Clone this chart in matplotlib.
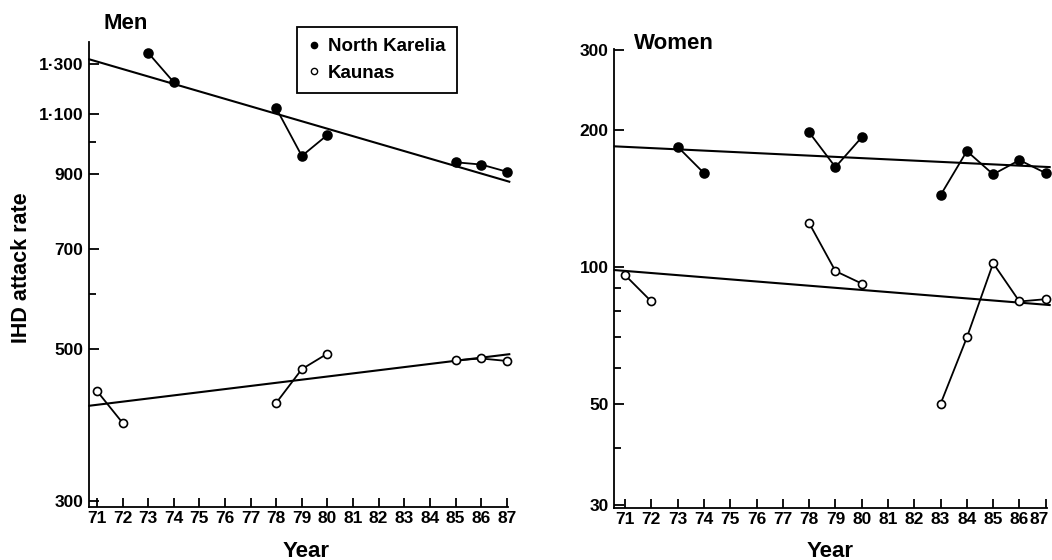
"""IHD attack rates in North Karelia and Kaunas, men and women, 1971-87."""

import numpy as np
import matplotlib

matplotlib.use("Agg")
import matplotlib.pyplot as plt
from matplotlib.lines import Line2D
from matplotlib.ticker import FixedLocator, NullFormatter
from matplotlib.transforms import ScaledTranslation

plt.rcParams["font.family"] = ["Liberation Sans", "DejaVu Sans"]
plt.rcParams["font.weight"] = "bold"
plt.rcParams["axes.labelweight"] = "bold"

YEARS = list(range(71, 88))

# men
men_nk_years = [73, 74, 78, 79, 80, 85, 86, 87]
men_nk_rate = [1350, 1223, 1121, 955, 1025, 935, 928, 906]
men_ka_years = [71, 72, 78, 79, 80, 85, 86, 87]
men_ka_rate = [434, 390, 417, 467, 492, 481, 484, 480]
men_trend_years = [70.7, 87.1]
men_nk_trend = [1321, 876]
men_ka_trend = [413, 491]
men_yticks = [300, 500, 700, 900, 1100, 1300]
men_yticklabels = ["300", "500", "700", "900", "1\u00b7100", "1\u00b7300"]
men_yminor = [600, 1000]

# women
women_nk_years = [73, 74, 78, 79, 80, 83, 84, 85, 86, 87]
women_nk_rate = [184, 161, 198, 166, 193, 144, 180, 160, 172, 161]
women_ka_years = [71, 72, 78, 79, 80, 83, 84, 85, 86, 87]
women_ka_rate = [96, 84, 125, 98, 92, 50, 70, 102, 84, 85]
women_trend_years = [70.6, 87.15]
women_nk_trend = [184.4, 166.0]
women_ka_trend = [98.5, 82.5]
women_yticks = [30, 50, 100, 200, 300]
women_yticklabels = ["30", "50", "100", "200", "300"]
women_yminor = [40, 60, 70, 80, 90]


def runs(years, values):
    """Split a series wherever a year is missing, so gaps are not joined."""
    years = np.asarray(years)
    values = np.asarray(values)
    cuts = np.where(np.diff(years) > 1)[0] + 1
    return zip(np.split(years, cuts), np.split(values, cuts))


def draw_series(ax, years, values, filled):
    face = "black" if filled else "white"
    for ys, vs in runs(years, values):
        ax.plot(ys, vs, color="black", lw=1.3, marker="o", ms=6.4 if filled else 5.8,
                mfc=face, mec="black", mew=1.2, zorder=3, clip_on=False)


def draw_trend(ax, years, values):
    ax.plot(years, values, color="black", lw=1.5, zorder=2, clip_on=False)


def style_axes(ax, xlim, ylim, yticks, yticklabels, yminor):
    ax.set_yscale("log")
    ax.set_xlim(*xlim)
    ax.set_ylim(*ylim)
    for side in ("top", "right"):
        ax.spines[side].set_visible(False)
    for side in ("left", "bottom"):
        ax.spines[side].set_linewidth(1.3)
    ax.set_xticks(YEARS)
    ax.set_xticklabels([str(y) for y in YEARS])
    ax.yaxis.set_major_locator(FixedLocator(yticks))
    ax.set_yticklabels(yticklabels)
    ax.yaxis.set_minor_locator(FixedLocator(yminor))
    ax.yaxis.set_minor_formatter(NullFormatter())
    ax.tick_params(axis="both", which="major", direction="in", labelsize=12.5,
                   width=1.3, colors="black")
    ax.tick_params(axis="y", which="major", length=7.5, pad=4)
    ax.tick_params(axis="y", which="minor", direction="in", length=5, width=1.3)
    ax.tick_params(axis="x", which="major", length=6.5, pad=3)


fig = plt.figure(figsize=(10.52, 5.6), dpi=100)
ax_m = fig.add_axes([0.0846, 0.0946, 0.3983, 0.8304])
ax_w = fig.add_axes([0.5837, 0.0929, 0.4116, 0.8196])

# men panel
draw_trend(ax_m, men_trend_years, men_nk_trend)
draw_trend(ax_m, men_trend_years, men_ka_trend)
draw_series(ax_m, men_nk_years, men_nk_rate, filled=True)
draw_series(ax_m, men_ka_years, men_ka_rate, filled=False)
style_axes(ax_m, (70.69, 87.05), (294, 1400), men_yticks, men_yticklabels, men_yminor)
ax_m.text(0.088, 1.039, "Men", transform=ax_m.transAxes, ha="center", va="center",
          fontsize=16)
ax_m.set_ylabel("IHD attack rate", fontsize=15.5)
ax_m.yaxis.set_label_coords(-0.136, 0.514)
ax_m.set_xlabel("Year", fontsize=16)
ax_m.xaxis.set_label_coords(0.518, -0.072)

handles = [
    Line2D([], [], ls="none", marker="o", ms=4.5, mfc="black", mec="black"),
    Line2D([], [], ls="none", marker="o", ms=4.5, mfc="white", mec="black", mew=1.0),
]
leg = ax_m.legend(handles, ["North Karelia", "Kaunas"], loc="upper left",
                  bbox_to_anchor=(0.496, 1.032), fontsize=13.5, frameon=True,
                  fancybox=False, framealpha=1, edgecolor="black", borderaxespad=0,
                  handlelength=0.6, handletextpad=0.45, borderpad=0.6,
                  labelspacing=0.5)
leg.get_frame().set_linewidth(1.3)

# women panel
draw_trend(ax_w, women_trend_years, women_nk_trend)
draw_trend(ax_w, women_trend_years, women_ka_trend)
draw_series(ax_w, women_nk_years, women_nk_rate, filled=True)
draw_series(ax_w, women_ka_years, women_ka_rate, filled=False)
style_axes(ax_w, (70.58, 87.05), (29.5, 302), women_yticks, women_yticklabels,
           women_yminor)
ax_w.text(0.139, 1.013, "Women", transform=ax_w.transAxes, ha="center", va="center",
          fontsize=16)
ax_w.set_xlabel("Year", fontsize=16)
ax_w.xaxis.set_label_coords(0.5, -0.072)

# the last year label sits a little left of its tick, as in the original
last = ax_w.get_xticklabels()[-1]
last.set_transform(last.get_transform() + ScaledTranslation(-5 / 72, 0, fig.dpi_scale_trans))

fig.savefig("out.png", dpi=100)
